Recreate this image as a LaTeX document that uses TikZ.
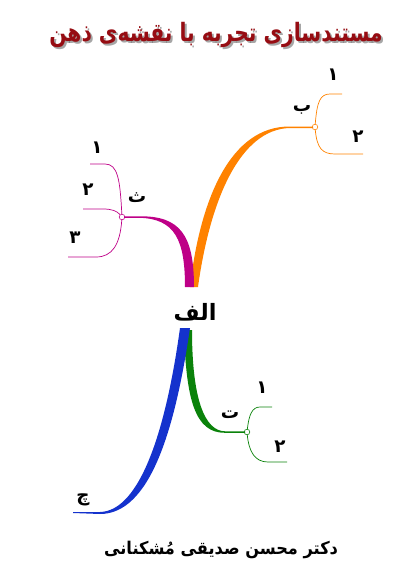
\documentclass[tikz,border=0pt]{standalone}
\usepackage{fontspec}
\TeXXeTstate=1
\newfontfamily\fa[Script=Arabic]{DejaVu Sans}
\definecolor{titlered}{RGB}{150,12,18}
\definecolor{bor}{RGB}{255,130,0}
\definecolor{bmag}{RGB}{190,0,135}
\definecolor{bblue}{RGB}{20,50,205}
\definecolor{bgreen}{RGB}{10,130,10}
\begin{document}
\begin{tikzpicture}[x=0.025cm,y=-0.025cm,
lbl/.style={font=\fa\bfseries\fontsize{13}{15}\selectfont,inner sep=0pt},
jn/.style={circle,draw=#1,fill=white,inner sep=0pt,minimum size=4pt,line width=.4pt},
twig/.style={draw=#1,line width=.5pt},
head/.style={font=\fa\bfseries\fontsize{18}{20}\selectfont,xscale=.8,transform shape}]
\useasboundingbox(0,0)rectangle(400,580);
% title and author
\node[head,text=black,opacity=.35](shadow)at(218,37){\beginR مستندسازی تجربه با نقشه‌ی ذهن\endR};
\node[head,text=titlered](title)at(216,35){\beginR مستندسازی تجربه با نقشه‌ی ذهن\endR};
\node[font=\fa\bfseries\fontsize{12.5}{14}\selectfont,xscale=.92,transform shape](author)at(221,550){\beginR دکتر محسن صدیقی مُشکنانی\endR};
\node[font=\fa\bfseries\fontsize{16}{18}\selectfont,inner sep=0pt](center)at(195,312){\beginR الف\endR};
% junctions
\node[jn=bor](jb)at(315,127){};
\node[jn=bmag](jm)at(122,217){};
\node[jn=bgreen](jg)at(247,432){};
\coordinate(jc)at(73,513);
% main branches
\fill[bor](190,287)..controls(200,200)and(230,126)..(290,126.5)--(313,126.5)--(313,128)--(290,128)..controls(240,129)and(210,200)..(198,287)--cycle;
\fill[bmag](194,287)..controls(194,235)and(180,216)..(140,216.3)--(124,216.3)--(124,217.8)--(140,217.8)..controls(175,219)and(185,240)..(185,287)--cycle;
\fill[bgreen](184,330)..controls(186,400)and(195,433)..(225,432.8)--(245,432.8)--(245,431.3)--(225,431.3)..controls(205,431)and(192,400)..(192,330)--cycle;
\fill[bblue](190,328)..controls(175,430)and(150,514)..(100,514)--(jc)--(73,512)--(100,512)..controls(140,511)and(166,430)..(180,328)--cycle;
% sub-branches
\coordinate(b1)at(342,94);\coordinate(b2)at(363,154);
\coordinate(m1)at(90,164);\coordinate(m2)at(83,209);\coordinate(m3)at(68,257);
\coordinate(g1)at(272,407);\coordinate(g2)at(287,462);
\draw[twig=bor](jb)..controls(317,102)and(320,94)..(330,94)--(b1);
\draw[twig=bor](jb)..controls(317,148)and(322,154)..(335,154)--(b2);
\draw[twig=bmag](jm)..controls(120,180)and(118,164)..(105,164)--(m1);
\draw[twig=bmag](jm)..controls(117,211)and(112,209)..(103,209)--(m2);
\draw[twig=bmag](jm)..controls(120,245)and(112,257)..(96,257)--(m3);
\draw[twig=bgreen](jg)..controls(249,415)and(252,407)..(260,407)--(g1);
\draw[twig=bgreen](jg)..controls(249,452)and(255,462)..(268,462)--(g2);
% labels
\node[lbl](lb)at(302,110){\beginR ب\endR};
\node[lbl](lb1)at(333,75){۱};
\node[lbl](lb2)at(358,137){۲};
\node[lbl](lm)at(137,198){\beginR ث\endR};
\node[lbl](lm1)at(97,148){۱};
\node[lbl](lm2)at(88,190){۲};
\node[lbl](lm3)at(75,238){۳};
\node[lbl](lg)at(230,415){\beginR ت\endR};
\node[lbl](lg1)at(262,388){۱};
\node[lbl](lg2)at(280,447){۲};
\node[lbl](lc)at(83,500){\beginR چ\endR};
\end{tikzpicture}
\end{document}
